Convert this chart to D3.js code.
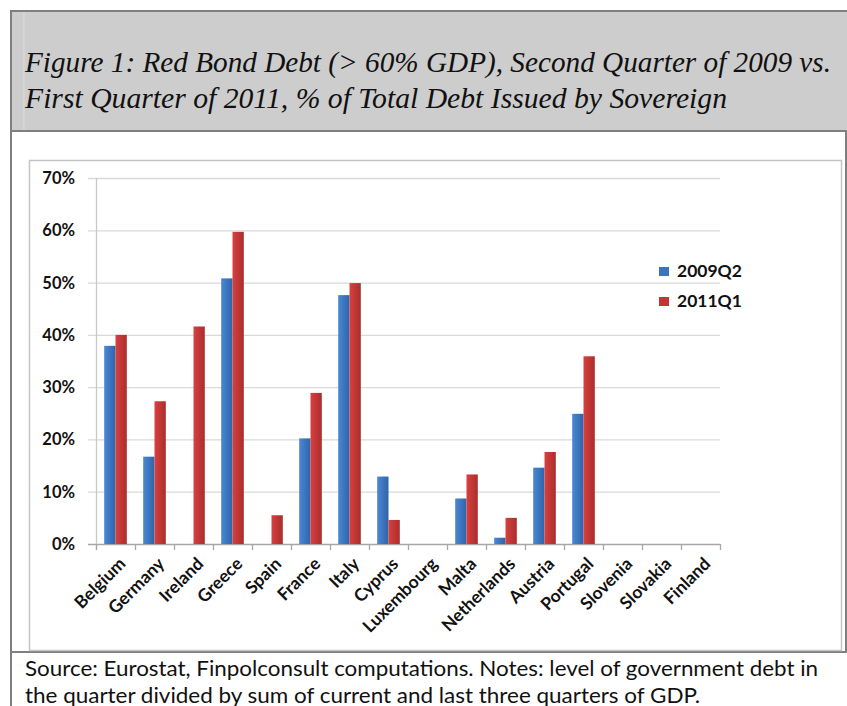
<!DOCTYPE html>
<html><head><meta charset="utf-8">
<script src="https://cdn.jsdelivr.net/npm/d3@7"></script>
<style>
html,body{margin:0;padding:0;background:#fff;}
svg{display:block;}
</style></head>
<body>
<svg id="chart" width="847" height="706"></svg>
<script>
const categories = ["Belgium","Germany","Ireland","Greece","Spain","France","Italy","Cyprus","Luxembourg","Malta","Netherlands","Austria","Portugal","Slovenia","Slovakia","Finland"];
const seriesNames = ["2009Q2","2011Q1"];
const values2009Q2 = [37.9,16.7,0,50.8,0,20.2,47.6,12.9,0,8.7,1.2,14.6,24.9,0,0,0];
const values2011Q1 = [40.0,27.3,41.6,59.7,5.5,28.9,49.9,4.6,0,13.3,5.0,17.6,35.9,0,0,0];
const yTicks = [0,10,20,30,40,50,60,70];
const titleLines = ["Figure 1: Red Bond Debt (> 60% GDP), Second Quarter of 2009 vs.","First Quarter of 2011, % of Total Debt Issued by Sovereign"];
const sourceLines = ["Source: Eurostat, Finpolconsult computations. Notes: level of government debt in","the quarter divided by sum of current and last three quarters of GDP."];

const svg = d3.select("#chart");
const defs = svg.append("defs");
function grad(id, c1, c2){
  const g = defs.append("linearGradient").attr("id", id).attr("x1","0").attr("x2","1").attr("y1","0").attr("y2","0");
  g.append("stop").attr("offset","0").attr("stop-color",c1);
  g.append("stop").attr("offset","1").attr("stop-color",c2);
}
grad("gBlue","#4a88d4","#2f64a8");
grad("gRed","#d8403f","#a92e2d");
const fills = {"2009Q2":"url(#gBlue)","2011Q1":"url(#gRed)"};
const legendFills = {"2009Q2":"#3a73c0","2011Q1":"#c23635"};

// title box
svg.append("rect").attr("x",11).attr("y",11).attr("width",836).attr("height",120).attr("fill","#cdcdcd");
svg.append("line").attr("x1",24).attr("x2",24).attr("y1",12).attr("y2",130).attr("stroke","#dcdcdc").attr("stroke-width",1);
svg.append("line").attr("x1",10).attr("x2",847).attr("y1",11).attr("y2",11).attr("stroke","#7f7f7f").attr("stroke-width",2);
svg.append("line").attr("x1",10).attr("x2",847).attr("y1",131).attr("y2",131).attr("stroke","#7f7f7f").attr("stroke-width",2);
svg.append("line").attr("x1",11).attr("x2",11).attr("y1",10).attr("y2",706).attr("stroke","#7f7f7f").attr("stroke-width",2);
svg.append("line").attr("x1",846).attr("x2",846).attr("y1",131).attr("y2",652).attr("stroke","#7f7f7f").attr("stroke-width",2);
svg.append("line").attr("x1",10).attr("x2",847).attr("y1",652).attr("y2",652).attr("stroke","#7f7f7f").attr("stroke-width",2);

const tl = [ {y:72, len:806}, {y:108, len:702} ];
titleLines.forEach((t,i)=>{
  svg.append("text").attr("x",25).attr("y",tl[i].y)
    .attr("font-family","'Liberation Serif','DejaVu Serif',serif").attr("font-style","italic")
    .attr("font-size",29).attr("fill","#111")
    .attr("textLength",tl[i].len).attr("lengthAdjust","spacingAndGlyphs").text(t);
});

// chart frame
svg.append("rect").attr("x",29.5).attr("y",160.5).attr("width",812).attr("height",490).attr("fill","#fff").attr("stroke","#c4c4c4").attr("stroke-width",1.5);

const x0 = d3.scaleBand().domain(categories).range([96,720]).paddingInner(0.42).paddingOuter(0.21);
const x1 = d3.scaleBand().domain(seriesNames).range([0,x0.bandwidth()]);
const y = d3.scaleLinear().domain([0,70]).range([544,178]);

// gridlines
svg.append("g").selectAll("line").data(yTicks).join("line")
  .attr("x1",88).attr("x2",720).attr("y1",d=>y(d)+0.5).attr("y2",d=>y(d)+0.5)
  .attr("stroke",d=>d===0?"#a6a6a6":"#d9d9d9").attr("stroke-width",1.3);
// y axis line
svg.append("line").attr("x1",96.5).attr("x2",96.5).attr("y1",y(70)).attr("y2",y(0)+6).attr("stroke","#c8c8c8").attr("stroke-width",1.3);
// x ticks
const step = x0.step();
svg.append("g").selectAll("line").data(d3.range(categories.length+1)).join("line")
  .attr("x1",i=>96.5+i*step).attr("x2",i=>96.5+i*step).attr("y1",y(0)).attr("y2",y(0)+6)
  .attr("stroke","#a6a6a6").attr("stroke-width",1.3);

// y labels
svg.append("g").selectAll("text").data(yTicks).join("text")
  .attr("x",75).attr("y",d=>y(d)).attr("dy","0.36em").attr("text-anchor","end")
  .attr("font-family","Lato,'Open Sans',sans-serif").attr("font-weight","bold").attr("font-size",16.5).attr("fill","#111")
  .text(d=>d+"%");

// bars
const rows = categories.map((c,i)=>({cat:c, vals:[{s:"2009Q2",v:values2009Q2[i]},{s:"2011Q1",v:values2011Q1[i]}]}));
const groups = svg.append("g").selectAll("g").data(rows).join("g").attr("transform",d=>`translate(${x0(d.cat)},0)`);
groups.selectAll("rect").data(d=>d.vals.filter(v=>v.v>0)).join("rect")
  .attr("x",d=>x1(d.s)).attr("width",x1.bandwidth())
  .attr("y",d=>y(d.v)).attr("height",d=>y(0)-y(d.v))
  .attr("fill",d=>fills[d.s]);

// x labels
svg.append("g").selectAll("text").data(categories).join("text")
  .attr("transform",d=>`translate(${x0(d)+x0.bandwidth()/2+11},${565}) rotate(-45)`)
  .attr("text-anchor","end")
  .attr("font-family","Lato,'Open Sans',sans-serif").attr("font-weight","bold").attr("font-size",17.5).attr("fill","#111")
  .text(d=>d);

// legend
const leg = svg.append("g").selectAll("g").data(seriesNames).join("g").attr("transform",(d,i)=>`translate(659,${267+i*30})`);
leg.append("rect").attr("width",10).attr("height",9).attr("fill",d=>legendFills[d]);
leg.append("text").attr("x",18).attr("y",10).attr("font-family","Lato,'Open Sans',sans-serif").attr("font-weight","bold").attr("font-size",17.5).attr("fill","#111").text(d=>d);

// source
const sl = [{y:676,len:793},{y:703,len:675}];
sourceLines.forEach((t,i)=>{
  svg.append("text").attr("x",25).attr("y",sl[i].y)
    .attr("font-family","Lato,'Open Sans',sans-serif").attr("font-size",21).attr("fill","#111")
    .attr("textLength",sl[i].len).attr("lengthAdjust","spacingAndGlyphs").text(t);
});
</script>
</body></html>
